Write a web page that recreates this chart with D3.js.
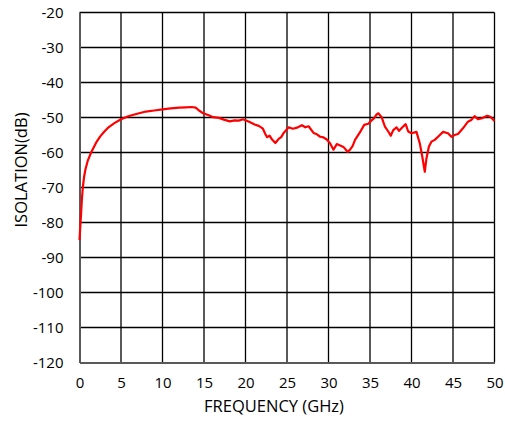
<!DOCTYPE html>
<html>
<head>
<meta charset="utf-8">
<script src="https://cdn.jsdelivr.net/npm/d3@7"></script>
<style>
  body { margin: 0; background: #fff; }
  text { font-family: "Open Sans", "Liberation Sans", sans-serif; fill: #000; }
</style>
</head>
<body>
<div id="chart"></div>
<script>
// frequency (GHz) and isolation (dB)
const freq = [0, 0.1, 0.2, 0.3, 0.4, 0.55, 0.7, 1.0, 1.4, 2.0, 2.5, 3.0, 3.5, 4.2, 5.0, 5.8, 6.5, 7.3, 8.0, 9.0,
  10.0, 11.0, 12.0, 12.8, 13.5, 14.0, 14.4, 14.9, 15.5, 16.1, 16.8, 17.4, 18.1, 18.7, 19.2, 19.7, 20.5,
  21.1, 21.6, 22.1, 22.4, 22.6, 22.9, 23.2, 23.6, 24.0, 24.3, 24.6, 25.2, 25.7, 26.2, 26.8, 27.2, 27.6,
  28.2, 28.6, 29.0, 29.4, 29.8, 30.2, 30.6, 31.0, 31.4, 31.8, 32.3, 32.6, 32.9, 33.2, 33.8, 34.3, 34.8,
  35.2, 35.5, 35.8, 36.0, 36.4, 36.8, 37.2, 37.5, 37.8, 38.2, 38.5, 39.0, 39.3, 39.6, 40.0, 40.6, 41.0,
  41.3, 41.6, 41.8, 42.1, 42.4, 42.8, 43.2, 43.8, 44.4, 44.8, 45.2, 45.6, 46.2, 46.8, 47.2, 47.6, 48.0,
  48.5, 49.1, 49.5, 50.0];
const isolation = [-85, -81, -77, -73, -70, -67, -65, -62.3, -60, -57.2, -55.4, -54, -52.8, -51.6, -50.5, -49.7, -49.2, -48.7, -48.3, -48.0,
  -47.7, -47.4, -47.2, -47.1, -47.0, -47.2, -48.0, -48.8, -49.3, -49.9, -50.1, -50.6, -51.1, -50.8, -50.9, -50.5, -51.3,
  -52.0, -52.4, -53.2, -54.8, -55.6, -55.2, -56.3, -57.3, -56.1, -55.6, -54.4, -52.8, -53.2, -52.9, -52.2, -52.8, -52.5,
  -54.4, -54.8, -55.5, -55.7, -56.3, -57.4, -59.2, -57.6, -58.0, -58.4, -59.8, -59.2, -58.2, -56.4, -54.2, -52.1, -51.8,
  -50.8, -50.2, -49.1, -48.8, -49.9, -52.6, -54.0, -55.2, -53.6, -52.8, -53.8, -52.6, -51.9, -54.0, -54.5, -54.1, -57.4,
  -61.2, -65.5, -61.7, -58.3, -56.9, -56.4, -55.5, -54.1, -54.5, -55.5, -55.0, -54.7, -53.1, -51.2, -50.7, -49.6, -50.5,
  -50.2, -49.5, -49.8, -51.0];
const xTicks = [0, 5, 10, 15, 20, 25, 30, 35, 40, 45, 50];
const yTicks = [-20, -30, -40, -50, -60, -70, -80, -90, -100, -110, -120];

const W = 505, H = 421;
const margin = { top: 12.5, right: 10.5, bottom: 58.5, left: 79.5 };
const width = W - margin.left - margin.right,
      height = H - margin.top - margin.bottom;

const svg = d3.select("#chart").append("svg")
    .attr("width", W).attr("height", H);
const g = svg.append("g")
    .attr("transform", `translate(${margin.left},${margin.top})`);

const x = d3.scaleLinear().domain([0, 50]).range([0, width]);
const y = d3.scaleLinear().domain([-120, -20]).range([height, 0]);

// grid
g.selectAll(".vgrid").data(xTicks.slice(1)).enter().append("line")
    .attr("x1", d => x(d)).attr("x2", d => x(d))
    .attr("y1", 0).attr("y2", height)
    .attr("stroke", "#000").attr("stroke-width", 1.3);
g.selectAll(".hgrid").data(yTicks.slice(0, -1)).enter().append("line")
    .attr("x1", 0).attr("x2", width)
    .attr("y1", d => y(d)).attr("y2", d => y(d))
    .attr("stroke", "#000").attr("stroke-width", 1.3);

// axes (gray lines, no tick marks); plain hyphen for negatives
const fmt = d => String(d);
const xAxis = g.append("g")
    .attr("transform", `translate(0,${height})`)
    .call(d3.axisBottom(x).tickValues(xTicks).tickFormat(fmt).tickSize(0).tickPadding(15));
const yAxis = g.append("g")
    .call(d3.axisLeft(y).tickValues(yTicks).tickFormat(fmt).tickSize(0).tickPadding(16));
[xAxis, yAxis].forEach(a => {
  a.select(".domain").attr("stroke", "#595959").attr("stroke-width", 2);
  a.selectAll("text").style("font-size", "15px").attr("fill", "#000")
    .style("font-family", '"Open Sans", "Liberation Sans", sans-serif');
});

// curve
const line = d3.line()
    .x((d, i) => x(freq[i]))
    .y(d => y(d));
g.append("path")
    .datum(isolation)
    .attr("fill", "none")
    .attr("stroke", "#ff0000")
    .attr("stroke-width", 2.2)
    .attr("stroke-linejoin", "round")
    .attr("d", line);

// axis titles
svg.append("text")
    .attr("x", 274).attr("y", 412)
    .attr("text-anchor", "middle")
    .style("font-size", "16.5px")
    .text("FREQUENCY (GHz)");
svg.append("text")
    .attr("transform", "translate(27,170) rotate(-90)")
    .attr("text-anchor", "middle")
    .style("font-size", "16.5px")
    .text("ISOLATION(dB)");
</script>
</body>
</html>
